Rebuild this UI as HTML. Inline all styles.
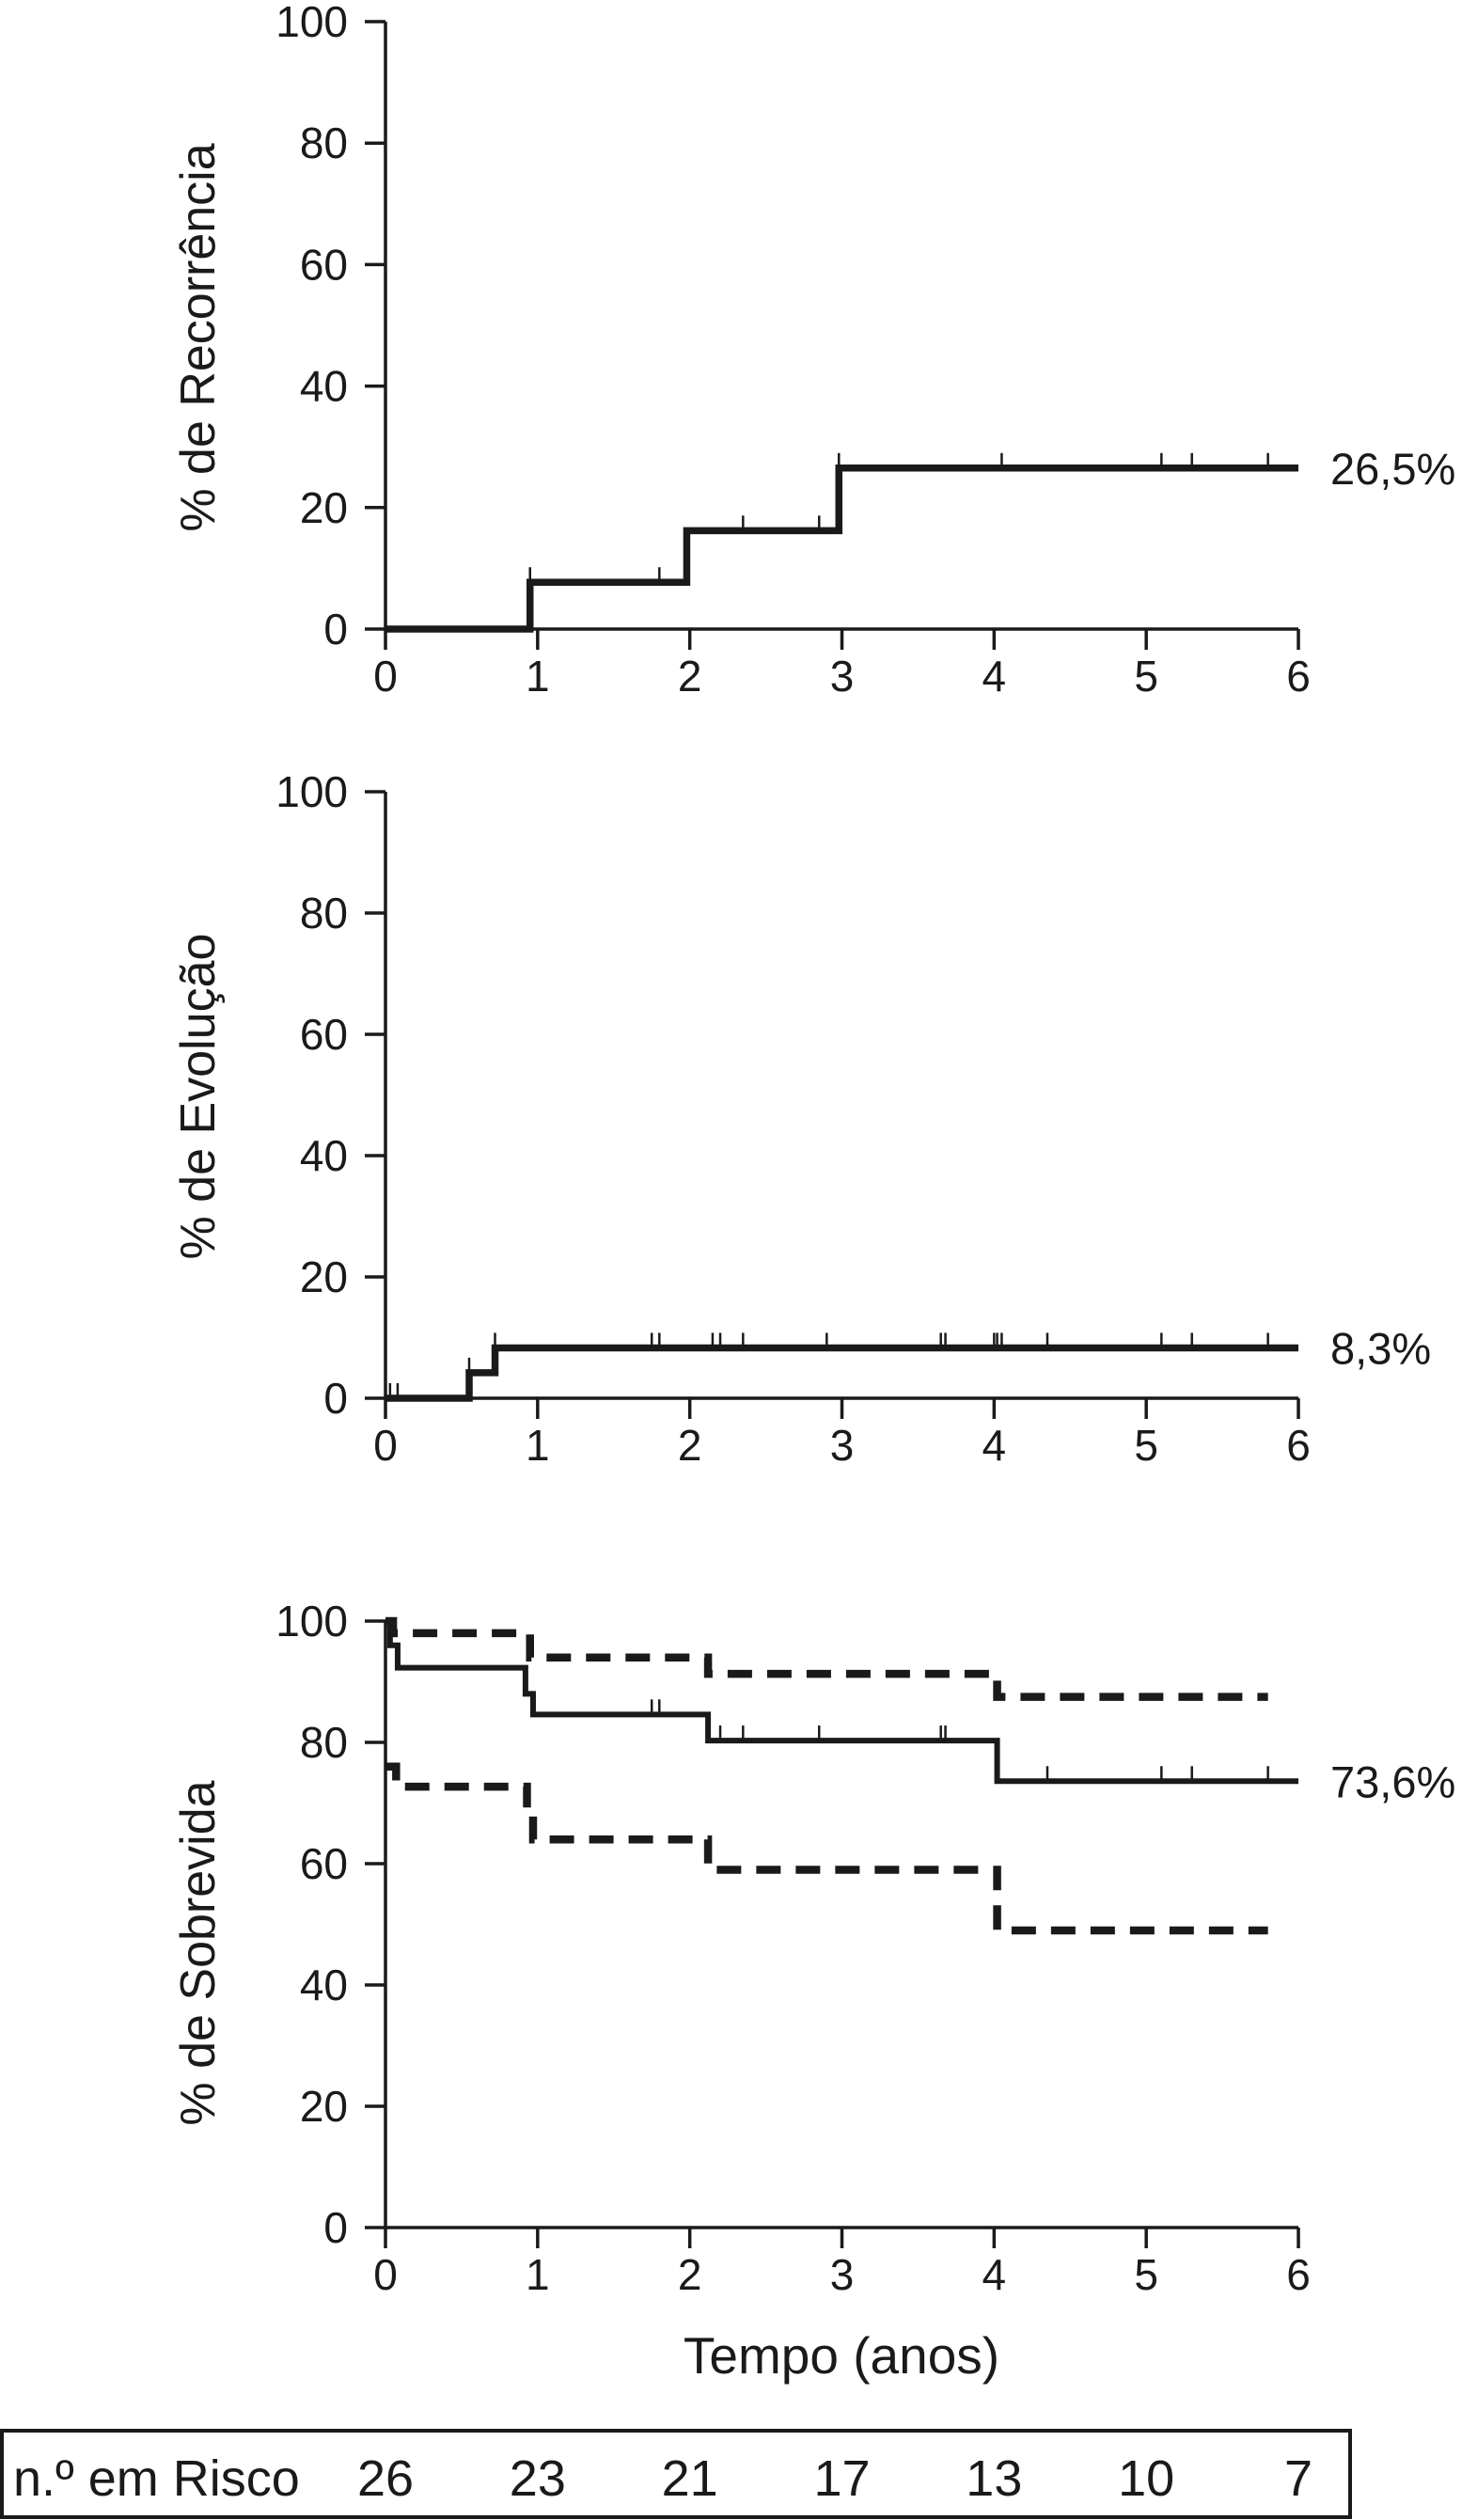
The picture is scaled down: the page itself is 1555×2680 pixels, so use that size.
<!DOCTYPE html>
<html><head><meta charset="utf-8">
<style>
html,body{margin:0;padding:0;background:#fff;}
svg{display:block;}
text{font-family:"Liberation Sans",Arial,sans-serif;fill:#1a1a1a;}
</style></head>
<body>
<svg id="fig" width="1555" height="2680" viewBox="0 0 1555 2680" xmlns="http://www.w3.org/2000/svg"></svg>
<script>
// ---- data ----
const xTicks = [0,1,2,3,4,5,6];
const yTicks = [0,20,40,60,80,100];
// Chart 1: recurrence
const recTimes = [0,0.95,1.98,2.98];
const recValues = [0,7.7,16.2,26.5];
const recCensor = [0.95,1.8,2.35,2.85,2.98,4.05,5.1,5.3,5.8];
const recLabel = "26,5%";
// Chart 2: evolution
const evoTimes = [0,0.55,0.72];
const evoValues = [0,4.2,8.3];
const evoCensor = [0.03,0.08,0.55,0.72,1.75,1.8,2.15,2.2,2.35,2.9,3.65,3.68,4.0,4.02,4.05,4.35,5.1,5.3,5.8];
const evoLabel = "8,3%";
// Chart 3: survival
const survTimes = [0,0.03,0.08,0.92,0.97,2.12,4.02];
const survValues = [100,96,92.3,88,84.6,80.3,73.6];
const survCensor = [1.75,1.8,2.2,2.35,2.85,3.65,3.68,4.35,5.1,5.3,5.8];
const upperTimes = [0,0.05,0.95,2.12,4.02];
const upperValues = [100,98,94,91.3,87.5];
const lowerTimes = [0,0.07,0.93,0.97,2.12,4.02];
const lowerValues = [76,72.7,68,64,59,49];
const survLabel = "73,6%";
// at-risk table
const atRisk = [26,23,21,17,13,10,7];

const NS = "http://www.w3.org/2000/svg";
const svg = document.getElementById('fig');
const X0 = 410, X1 = 1381;
function xs(t){ return X0 + (X1-X0)*t/6; }
function mk(tag, attrs, parent){
  const e = document.createElementNS(NS, tag);
  for (const k in attrs) e.setAttribute(k, attrs[k]);
  (parent||svg).appendChild(e);
  return e;
}
function stepPath(ys, times, vals, end){
  let d = "M" + xs(times[0]) + " " + ys(vals[0]);
  for (let i=1;i<times.length;i++){
    d += " H" + xs(times[i]) + " V" + ys(vals[i]);
  }
  d += " H" + xs(end);
  return d;
}
function valAt(times, vals, t){
  let v = vals[0];
  for (let i=0;i<times.length;i++) if (times[i] <= t) v = vals[i];
  return v;
}
function axes(name, yTop, yBot, title, titleY){
  const ys = v => yBot - (yBot-yTop)*v/100;
  const g = mk('g', {});
  
  
  const ya = mk('line', {x1:X0, y1:yTop, x2:X0, y2:yBot, stroke:'#1a1a1a', 'stroke-width':3.5}, g);
  
  
  const xa = mk('line', {x1:X0, y1:yBot, x2:X1, y2:yBot, stroke:'#1a1a1a', 'stroke-width':3.5}, g);
  
  
  yTicks.forEach(v => {
    const y = ys(v);
    mk('line', {x1:X0-22, y1:y, x2:X0, y2:y, stroke:'#1a1a1a', 'stroke-width':3.5}, g);
    const t = mk('text', {x:370, y:y+16, 'text-anchor':'end', 'font-size':46}, g);
    t.textContent = v;
    
    
  });
  xTicks.forEach(v => {
    const x = xs(v);
    mk('line', {x1:x, y1:yBot, x2:x, y2:yBot+22, stroke:'#1a1a1a', 'stroke-width':3.5}, g);
    const t = mk('text', {x:x, y:yBot+66, 'text-anchor':'middle', 'font-size':46}, g);
    t.textContent = v;
    
    
  });
  const tt = mk('text', {x:0, y:0, 'text-anchor':'middle', 'font-size':52,
    transform:'translate(228,' + titleY + ') rotate(-90)'}, g);
  tt.textContent = title;
  
  
  return ys;
}
function censorMarks(name, ys, times, vals, cens, h){
  cens.forEach(c => {
    const y = ys(valAt(times, vals, c));
    const m = mk('line', {x1:xs(c), y1:y, x2:xs(c), y2:y-h, stroke:'#1a1a1a', 'stroke-width':2.5});
    
    
  });
}
function endLabel(name, ys, v, txt){
  const t = mk('text', {x:1415, y:ys(v)+17, 'font-size':47});
  t.textContent = txt;
  
  
}

// Chart 1
const ys1 = axes('recurrence', 23, 669, '% de Recorrência', 359);
const p1 = mk('path', {d:stepPath(ys1, recTimes, recValues, 6), fill:'none', stroke:'#1a1a1a', 'stroke-width':7.5});


censorMarks('recurrence', ys1, recTimes, recValues, recCensor, 16);
endLabel('recurrence', ys1, recValues[recValues.length-1], recLabel);

// Chart 2
const ys2 = axes('evolution', 842, 1487, '% de Evolução', 1166);
const p2 = mk('path', {d:stepPath(ys2, evoTimes, evoValues, 6), fill:'none', stroke:'#1a1a1a', 'stroke-width':7.5});


censorMarks('evolution', ys2, evoTimes, evoValues, evoCensor, 16);
endLabel('evolution', ys2, evoValues[evoValues.length-1], evoLabel);

// Chart 3
const ys3 = axes('survival', 1724, 2369, '% de Sobrevida', 2077);
const pu = mk('path', {d:stepPath(ys3, upperTimes, upperValues, 5.8), fill:'none', stroke:'#1a1a1a', 'stroke-width':8.5, 'stroke-dasharray':'26 16'});


const pl = mk('path', {d:stepPath(ys3, lowerTimes, lowerValues, 5.8), fill:'none', stroke:'#1a1a1a', 'stroke-width':8.5, 'stroke-dasharray':'26 16'});


const ps = mk('path', {d:stepPath(ys3, survTimes, survValues, 6), fill:'none', stroke:'#1a1a1a', 'stroke-width':6});


censorMarks('survival', ys3, survTimes, survValues, survCensor, 16);
endLabel('survival', ys3, survValues[survValues.length-1], survLabel);

// x-axis title
const xt = mk('text', {x:895, y:2524, 'text-anchor':'middle', 'font-size':55});
xt.textContent = 'Tempo (anos)';



// risk table
const box = mk('rect', {x:2, y:2585, width:1434, height:92, fill:'none', stroke:'#1a1a1a', 'stroke-width':4});


const rl = mk('text', {x:14, y:2654, 'font-size':54});
rl.textContent = 'n.º em Risco';


atRisk.forEach((n, i) => {
  const t = mk('text', {x:xs(xTicks[i]), y:2654, 'text-anchor':'middle', 'font-size':54});
  t.textContent = n;
  
  
});
</script>
</body></html>
